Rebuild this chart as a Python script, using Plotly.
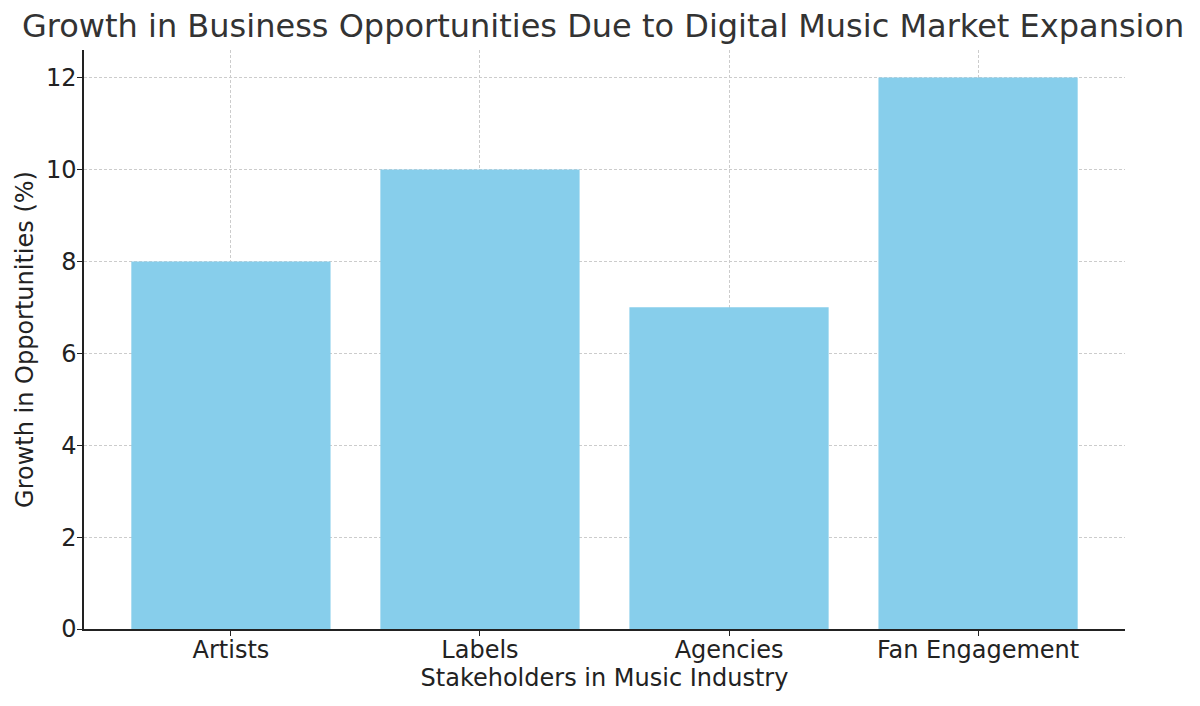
import plotly.graph_objects as go

categories = ["Artists", "Labels", "Agencies", "Fan Engagement"]
growth = [8, 10, 7, 12]

fig = go.Figure()
fig.add_trace(go.Bar(
    x=list(range(len(categories))), y=growth, width=0.8,
    marker=dict(color="#87CEEB", line=dict(width=0)),
))

fig.update_layout(
    width=1200, height=706,
    margin=dict(l=76, r=83, t=42, b=85, autoexpand=False),
    paper_bgcolor="white", plot_bgcolor="white",
    font=dict(family="DejaVu Sans", size=20, color="#222222"),
    title=dict(text="Growth in Business Opportunities Due to Digital Music Market Expansion",
               xref="container", x=0.496, xanchor="center", y=0.99, yanchor="top",
               font=dict(size=32, color="#333333")),
    showlegend=False,
)
fig.update_xaxes(
    tickmode="array", tickvals=list(range(len(categories))), ticktext=categories,
    range=[-0.59, 3.59], automargin=False,
    tickfont=dict(size=24, color="#222222"), ticklabelstandoff=-7,
    showline=True, linecolor="#222222", linewidth=1.5,
    ticks="outside", ticklen=5, tickwidth=1.2, tickcolor="#222222",
    showgrid=True, gridcolor="#cccccc", griddash="3px,2px", gridwidth=1,
    zeroline=False, layer="above traces",
    title=dict(text="Stakeholders in Music Industry", standoff=7),
)
fig.update_yaxes(
    range=[0, 12.6], tickvals=[0, 2, 4, 6, 8, 10, 12], automargin=False,
    tickfont=dict(size=24, color="#222222"), ticklabelstandoff=-4,
    showline=True, linecolor="#222222", linewidth=1.5,
    ticks="outside", ticklen=5, tickwidth=1.2, tickcolor="#222222",
    showgrid=True, gridcolor="#cccccc", griddash="3px,2px", gridwidth=1,
    zeroline=False, layer="above traces",
    title=dict(text="Growth in Opportunities (%)", standoff=6),
)

fig.write_html("out.html")
